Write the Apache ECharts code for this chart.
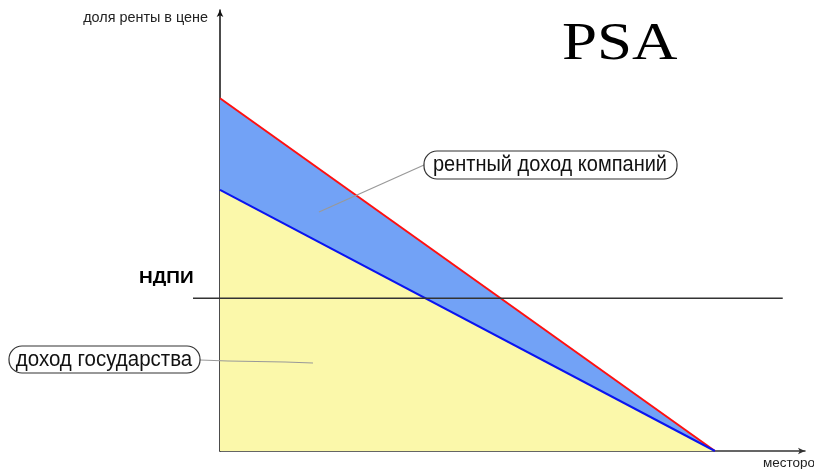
<!DOCTYPE html>
<html>
<head>
<meta charset="utf-8">
<script src="https://cdn.jsdelivr.net/npm/echarts@6/dist/echarts.min.js"></script>
<style>
  html, body { margin: 0; padding: 0; background: #fff; }
  #main { width: 814px; height: 469px; }
</style>
</head>
<body>
<div id="main"></div>
<script>
// данные схемы (условные единицы)
var xEnd = [0, 100];          // начало и конец месторождений
var fullRent = [100, 0];      // полная рента (красная линия)
var companyLine = [74, 0];    // граница дохода государства (синяя линия)
var ndpiLevel = 43.3;         // уровень НДПИ
var ndpiRange = [-5.5, 113.7];
var xMax = 118.2, yMax = 125;

function pairs(xs, ys) {
    return xs.map(function (x, i) { return [x, ys[i]]; });
}

var chart = echarts.init(document.getElementById('main'));
var font = 'Liberation Sans, Arial, sans-serif';

var option = {
    animation: false,
    grid: [
        {left: 220, right: 9, top: 10, bottom: 18, outerBoundsMode: 'none', containLabel: false},
        {left: 193, right: 9, top: 10, bottom: 18, outerBoundsMode: 'none', containLabel: false}
    ],
    xAxis: [{
        type: 'value', gridIndex: 0, min: 0, max: xMax,
        axisLine: {show: true, onZero: false, symbol: ['none', 'arrow'], symbolSize: [5, 7],
            lineStyle: {color: '#333', width: 1.5}},
        axisTick: {show: false}, axisLabel: {show: false}, splitLine: {show: false}
    }, {
        type: 'value', gridIndex: 1, min: ndpiRange[0], max: xMax, show: false
    }],
    yAxis: [{
        type: 'value', gridIndex: 0, min: 0, max: yMax,
        axisLine: {show: true, onZero: false, symbol: ['none', 'arrow'], symbolSize: [5, 7],
            lineStyle: {color: '#111', width: 1.5}},
        axisTick: {show: false}, axisLabel: {show: false}, splitLine: {show: false},
        name: 'доля ренты в цене', nameLocation: 'end', nameGap: -8,
        nameTextStyle: {fontFamily: font, fontSize: 14.4, color: '#222', align: 'right', verticalAlign: 'middle', padding: [0, 12, 0, 0]}
    }, {
        type: 'value', gridIndex: 1, min: 0, max: yMax, show: false
    }],
    series: [{
        name: 'рентный доход компаний',
        type: 'line', xAxisIndex: 0, yAxisIndex: 0,
        data: pairs(xEnd, fullRent),
        symbol: 'none', z: 2,
        lineStyle: {color: '#ff1010', width: 2},
        areaStyle: {color: '#72a2f6', opacity: 1}
    }, {
        name: 'доход государства',
        type: 'line', xAxisIndex: 0, yAxisIndex: 0,
        data: pairs(xEnd, companyLine),
        symbol: 'none', z: 3,
        lineStyle: {color: '#0a14f0', width: 2},
        areaStyle: {color: '#fbf8aa', opacity: 1}
    }, {
        name: 'НДПИ',
        type: 'line', xAxisIndex: 1, yAxisIndex: 1,
        data: pairs(ndpiRange, [ndpiLevel, ndpiLevel]),
        symbol: 'none', z: 4,
        lineStyle: {color: '#333', width: 1.5}
    }],
    graphic: [
        {type: 'text', z: 10, scaleY: 0.84, originX: 562, originY: 45,
            style: {x: 562, y: 45, text: 'PSA', font: '63px "Liberation Serif", "Times New Roman", serif', fill: '#000', verticalAlign: 'middle'}},
        {type: 'text', z: 10, scaleY: 0.9, originX: 139, originY: 278,
            style: {x: 139, y: 278, text: 'НДПИ', font: 'bold 19px ' + font, fill: '#000', verticalAlign: 'middle'}},
        // подпись оси X (обрезана краем)
        {type: 'text', z: 10,
            style: {x: 763, y: 463, text: 'месторождения', font: '13.5px ' + font, fill: '#222', verticalAlign: 'middle'}},
        // выноска "рентный доход компаний"
        {type: 'line', z: 10, shape: {x1: 424, y1: 165, x2: 319, y2: 212}, style: {stroke: '#999', lineWidth: 1.2}},
        {type: 'rect', z: 11, shape: {x: 424, y: 151, width: 253, height: 28, r: 13},
            style: {fill: '#fff', stroke: '#333', lineWidth: 1.2}},
        {type: 'text', z: 12, scaleY: 1.12, originX: 550, originY: 165,
            style: {x: 550, y: 165, text: 'рентный доход компаний', font: '20px ' + font, fill: '#111', align: 'center', verticalAlign: 'middle'}},
        // выноска "доход государства"
        {type: 'polyline', z: 10, shape: {points: [[200, 360], [228, 361], [285, 362], [313, 363]]},
            style: {stroke: '#999', lineWidth: 1.2, fill: null}},
        {type: 'rect', z: 11, shape: {x: 9, y: 346, width: 191, height: 27, r: 13},
            style: {fill: '#fff', stroke: '#333', lineWidth: 1.2}},
        {type: 'text', z: 12, scaleY: 1.12, originX: 104, originY: 360,
            style: {x: 104, y: 360, text: 'доход государства', font: '20.5px ' + font, fill: '#111', align: 'center', verticalAlign: 'middle'}}
    ]
};
chart.setOption(option);
</script>
</body>
</html>
